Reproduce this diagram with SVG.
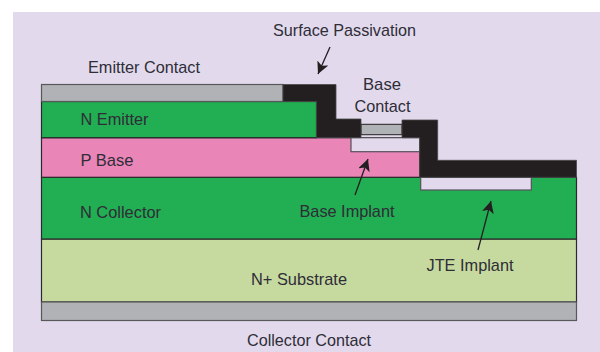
<svg xmlns="http://www.w3.org/2000/svg" width="600" height="352" viewBox="0 0 600 352">
<style>
.l{stroke:#2a2a2c;stroke-width:1.2}
.g{fill:#b1b2b5;stroke:#58585a;stroke-width:1.2}
.t{font-family:"Liberation Sans",Arial,sans-serif;font-size:17px;fill:#2f2d38;text-anchor:middle;lengthAdjust:spacingAndGlyphs}
.b{fill:#231f20;stroke:#4a4a4c;stroke-width:.8}
.i{fill:#e2daec;stroke:#58505a;stroke-width:1.2}
.c{fill:none;stroke:#231f20;stroke-width:1.3}
</style>
<defs><marker id="a" markerUnits="userSpaceOnUse" markerWidth="14" markerHeight="14" refX="12" refY="6" orient="auto"><path d="M0 0L12 6L0 12L3 6Z" fill="#231f20"/></marker></defs>
<rect x="13" y="12" width="587" height="340" fill="#e2daec"/>
<g id="substrate"><rect class="l" x="41.5" y="239" width="535" height="63" fill="#c6da9f"/><text class="t" x="299" y="285" textLength="96" lengthAdjust="spacingAndGlyphs">N+ Substrate</text></g>
<g id="collector-contact"><rect class="g" x="41.5" y="302" width="535" height="18.5"/><text class="t" x="309" y="346" textLength="124" lengthAdjust="spacingAndGlyphs">Collector Contact</text></g>
<g id="n-collector"><rect class="l" x="41.5" y="177.3" width="535" height="61.7" fill="#22ae52"/><text class="t" x="120.500" y="218" textLength="81" lengthAdjust="spacingAndGlyphs">N Collector</text></g>
<g id="p-base"><rect class="l" x="41.5" y="137.700" width="378.200" height="39.600" fill="#e985b7"/><text class="t" x="107" y="166" textLength="53" lengthAdjust="spacingAndGlyphs">P Base</text></g>
<g id="n-emitter"><rect class="l" x="41.5" y="101.500" width="275" height="36.200" fill="#22ae52"/><text class="t" x="114.500" y="125" textLength="68" lengthAdjust="spacingAndGlyphs">N Emitter</text></g>
<g id="emitter-contact"><rect class="g" x="41.5" y="84.500" width="241.500" height="17"/><text class="t" x="144" y="72.500" textLength="112" lengthAdjust="spacingAndGlyphs">Emitter Contact</text></g>
<g id="base-implant"><rect class="i" x="351" y="137.700" width="68.700" height="14"/><text class="t" x="347" y="217" textLength="95" lengthAdjust="spacingAndGlyphs">Base Implant</text></g>
<g id="jte-implant"><rect class="i" x="420.700" y="177.300" width="110.600" height="12.700"/><text class="t" x="470" y="271" textLength="87" lengthAdjust="spacingAndGlyphs">JTE Implant</text></g>
<g id="base-contact"><rect x="361" y="124.300" width="41" height="10.400" fill="#b1b2b5" stroke="#231f20" stroke-width="1"/><text class="t" x="382" y="90" textLength="38" lengthAdjust="spacingAndGlyphs">Base</text><text class="t" x="382.500" y="112" textLength="56" lengthAdjust="spacingAndGlyphs">Contact</text></g>
<g id="surface-passivation"><path class="b" d="M283 84.500H336V119H361V137.700H316.500V101.500H283Z"/><path class="b" d="M402 120H437.700V160.300H576.500V177.300H419.700V137.700H402Z"/><text class="t" x="344.500" y="36" textLength="143" lengthAdjust="spacingAndGlyphs">Surface Passivation</text></g>
<g id="connectors">
<path class="c" d="M330 47L318 74" marker-end="url(#a)"/>
<path class="c" d="M355 195L368 159" marker-end="url(#a)"/>
<path class="c" d="M478 250L491 201" marker-end="url(#a)"/>
</g>
</svg>
